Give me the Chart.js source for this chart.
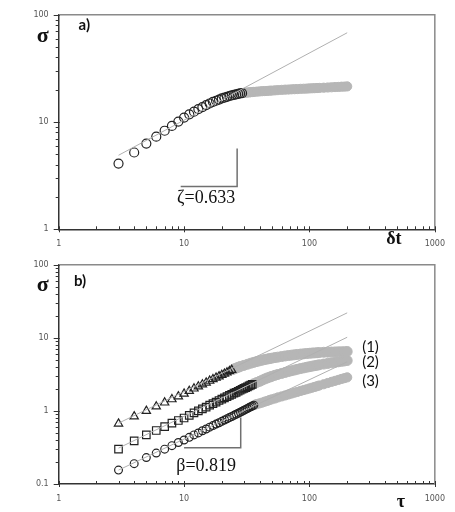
<!DOCTYPE html>
<html lang="en">
<head>
<meta charset="UTF-8" />
<title>sigma scaling</title>
<script src="https://cdn.jsdelivr.net/npm/chart.js@4.4.1/dist/chart.umd.min.js"></script>
<style>
  body { margin: 0; background: #fff; }
  canvas { display: block; }
</style>
</head>
<body>
<canvas id="chartA" width="455" height="250"></canvas>
<canvas id="chartB" width="455" height="262"></canvas>
<script>
// ---- panel a) sigma vs delta t ----
const aBlackX = [3,4,5,6,7,8,9,10,11,12,13,14,15,16,17,18,19,20,21,22,23,24,25,26,27,28,29];
const aBlackY = [4.1,5.2,6.3,7.3,8.3,9.2,10.1,11.0,11.8,12.5,13.2,13.8,14.4,14.9,15.4,15.8,16.2,16.6,16.9,17.2,17.5,17.7,17.9,18.1,18.3,18.5,18.6];
const aGreyX = [30,31,32,33,34,35,36,38,40,42,44,46,48,50,53,56,60,64,68,72,76,80,85,90,95,100,105,110,115,120,130,140,150,160,170,180,190,200];
const aGreyY = [18.7,18.8,18.85,18.9,19.0,19.05,19.1,19.2,19.3,19.4,19.45,19.5,19.6,19.65,19.75,19.85,19.95,20.05,20.1,20.2,20.25,20.3,20.4,20.45,20.5,20.6,20.65,20.7,20.75,20.8,20.9,21.0,21.1,21.2,21.25,21.35,21.4,21.5];
const aFitX = [3, 200];
const aFitY = [4.9, 68];
const aSlopeX = [26.5, 26.5, 9.4];
const aSlopeY = [5.66, 2.5, 2.5];

// ---- panel b) sigma vs tau, three curves ----
const b1BlackX = [3,4,5,6,7,8,9,10,11,12,13,14,15,16,17,18,19,20,21,22,23,24];
const b1BlackY = [0.67,0.84,1.0,1.15,1.3,1.44,1.58,1.72,1.87,2.02,2.16,2.3,2.44,2.58,2.71,2.84,2.97,3.1,3.23,3.36,3.5,3.63];
const b1GreyX = [25,26,27,28,30,32,34,36,38,40,42,44,46,48,50,53,56,60,64,68,72,76,80,85,90,95,100,105,110,115,120,130,140,150,160,170,180,190,200];
const b1GreyY = [3.75,3.85,3.95,4.05,4.2,4.35,4.5,4.62,4.74,4.85,4.95,5.05,5.12,5.2,5.27,5.37,5.45,5.55,5.65,5.73,5.8,5.87,5.93,6.0,6.05,6.1,6.15,6.2,6.23,6.26,6.3,6.35,6.38,6.4,6.42,6.44,6.45,6.47,6.5];

const b2BlackX = [3,4,5,6,7,8,9,10,11,12,13,14,15,16,17,18,19,20,21,22,23,24,25,26,27,28,29,30,31,32,33,34,35];
const b2BlackY = [0.30,0.39,0.47,0.54,0.61,0.68,0.74,0.8,0.87,0.94,1.0,1.07,1.13,1.2,1.26,1.32,1.39,1.45,1.51,1.57,1.63,1.69,1.75,1.8,1.86,1.92,1.98,2.03,2.09,2.14,2.2,2.25,2.31];
const b2GreyX = [36,38,40,42,44,46,48,50,53,56,60,64,68,72,76,80,85,90,95,100,105,110,115,120,130,140,150,160,170,180,190,200];
const b2GreyY = [2.36,2.45,2.54,2.64,2.74,2.82,2.9,2.97,3.07,3.16,3.26,3.36,3.46,3.55,3.63,3.71,3.8,3.88,3.96,4.03,4.1,4.16,4.22,4.28,4.38,4.47,4.56,4.63,4.7,4.77,4.83,4.9];

const b3BlackX = [3,4,5,6,7,8,9,10,11,12,13,14,15,16,17,18,19,20,21,22,23,24,25,26,27,28,29,30,31,32,33,34,35,36];
const b3BlackY = [0.155,0.19,0.23,0.265,0.3,0.335,0.37,0.4,0.435,0.47,0.5,0.535,0.565,0.6,0.63,0.66,0.69,0.72,0.75,0.78,0.81,0.84,0.87,0.9,0.93,0.96,0.99,1.02,1.05,1.08,1.11,1.14,1.17,1.2];
const b3GreyX = [37,38,40,42,44,46,48,50,53,56,60,64,68,72,76,80,85,90,95,100,105,110,115,120,130,140,150,160,170,180,190,200];
const b3GreyY = [1.22,1.24,1.27,1.3,1.34,1.37,1.41,1.44,1.48,1.53,1.58,1.63,1.68,1.73,1.78,1.82,1.88,1.93,1.98,2.03,2.08,2.13,2.18,2.23,2.32,2.41,2.5,2.58,2.66,2.74,2.81,2.88];

const bFitX = [3, 200];
const b1FitY = [0.68, 22];
const b2FitY = [0.31, 10.2];
const b3FitY = [0.155, 4.7];
const bSlopeX = [28.3, 28.3, 10.0];
const bSlopeY = [0.81, 0.313, 0.313];

// ---- axis ticks ----
const xTicks = [1,2,3,4,5,6,7,8,9,10,20,30,40,50,60,70,80,90,100,200,300,400,500,600,700,800,900,1000];
const yTicksA = [1,2,3,4,5,6,7,8,9,10,20,30,40,50,60,70,80,90,100];
const yTicksB = [0.1,0.2,0.3,0.4,0.5,0.6,0.7,0.8,0.9,1,2,3,4,5,6,7,8,9,10,20,30,40,50,60,70,80,90,100];

const GREY = '#b6b6b6';
const SERIF = '"Liberation Serif", "DejaVu Serif", serif';

function pts(xs, ys) {
  return xs.map((x, i) => ({ x: x, y: ys[i] }));
}
function marks(xs, ys, style, r, grey) {
  return {
    data: pts(xs, ys), showLine: false, pointStyle: style, pointRadius: r,
    pointBorderWidth: grey ? 1 : 1.2,
    pointBorderColor: grey ? GREY : '#222',
    pointBackgroundColor: grey ? GREY : 'rgba(0,0,0,0)'
  };
}
function line(xs, ys, color, w) {
  return { data: pts(xs, ys), showLine: true, borderColor: color, borderWidth: w, pointRadius: 0, fill: false };
}
function isDecade(v) {
  const l = Math.log10(v);
  return Math.abs(l - Math.round(l)) < 1e-9;
}

// frame, tick marks and texts
const extras = {
  id: 'extras',
  afterDraw(chart, args, opts) {
    const ctx = chart.ctx;
    const a = chart.chartArea;
    const sx = chart.scales.x, sy = chart.scales.y;
    ctx.save();
    // grey frame on top and right
    ctx.strokeStyle = '#8a8a8a';
    ctx.lineWidth = 1.5;
    ctx.beginPath();
    ctx.moveTo(a.left, a.top); ctx.lineTo(a.right, a.top); ctx.lineTo(a.right, a.bottom);
    ctx.stroke();
    // tick marks
    ctx.strokeStyle = '#333';
    ctx.lineWidth = 1;
    ctx.beginPath();
    xTicks.forEach(v => {
      const p = Math.round(sx.getPixelForValue(v)) + 0.5;
      const m = isDecade(v);
      ctx.moveTo(p, a.bottom - 3);
      ctx.lineTo(p, a.bottom + (m ? 3 : 0));
    });
    opts.yTicks.forEach(v => {
      const p = Math.round(sy.getPixelForValue(v)) + 0.5;
      const m = isDecade(v);
      ctx.moveTo(a.left - (m ? 5 : 3), p);
      ctx.lineTo(a.left + (m ? 1 : 0), p);
    });
    ctx.stroke();
    // texts
    ctx.textAlign = 'center';
    ctx.textBaseline = 'middle';
    opts.texts.forEach(t => {
      let x, y;
      if (t.data) {
        x = sx.getPixelForValue(t.data[0]);
        y = sy.getPixelForValue(t.data[1]);
      } else {
        x = (t.fromRight ? a.right : a.left) + t.dx;
        y = (t.fromBottom ? a.bottom : a.top) + t.dy;
      }
      ctx.font = t.font;
      ctx.fillStyle = t.color || '#111';
      ctx.fillText(t.text, x, y);
    });
    ctx.restore();
  }
};

function makeChart(id, datasets, yMin, yTicks, pad, xHeight, texts) {
  const tickFont = { family: '"DejaVu Sans", sans-serif', size: 8 };
  return new Chart(document.getElementById(id), {
    type: 'scatter',
    data: { datasets: datasets },
    plugins: [extras],
    options: {
      responsive: false,
      animation: false,
      events: [],
      layout: { padding: { left: 0, top: pad.top, right: pad.right, bottom: 0 } },
      plugins: {
        legend: { display: false },
        tooltip: { enabled: false },
        extras: { yTicks: yTicks, texts: texts }
      },
      scales: {
        x: {
          type: 'logarithmic', min: 1, max: 1000,
          afterBuildTicks: s => { s.ticks = xTicks.map(v => ({ value: v })); },
          afterFit: s => { s.height = xHeight; },
          grid: { display: false, drawTicks: false },
          border: { display: true, color: '#333', width: 1.5 },
          ticks: {
            autoSkip: false, maxRotation: 0, padding: 10, color: '#555', font: tickFont,
            callback: v => isDecade(v) ? String(v) : ''
          }
        },
        y: {
          type: 'logarithmic', min: yMin, max: 100,
          afterBuildTicks: s => { s.ticks = yTicks.map(v => ({ value: v })); },
          afterFit: s => { s.width = 58.7; },
          grid: { display: false, drawTicks: false },
          border: { display: true, color: '#333', width: 1.5 },
          ticks: {
            autoSkip: false, padding: 10, color: '#555', font: tickFont,
            callback: v => isDecade(v) ? String(v) : ''
          }
        }
      }
    }
  });
}

makeChart('chartA', [
  line(aFitX, aFitY, '#b0b0b0', 1),
  marks(aBlackX, aBlackY, 'circle', 4.5, false),
  marks(aGreyX, aGreyY, 'circle', 4.6, true),
  line(aSlopeX, aSlopeY, '#707070', 1.5)
], 1, yTicksA, { top: 6.7, right: 18.3 }, 20.7, [
  { text: 'a)', font: 'bold 15px Lato, sans-serif', data: [1.6, 80] },
  { text: '\u03c3', font: 'bold 22px ' + SERIF, dx: -16, dy: 22 },
  { text: '\u03b4t', font: 'bold 18px ' + SERIF, fromRight: true, fromBottom: true, dx: -41, dy: 10 },
  { text: '\u03b6=0.633', font: '18px ' + SERIF, data: [15, 1.95] }
]);

makeChart('chartB', [
  line(bFitX, b1FitY, '#b0b0b0', 1),
  line(bFitX, b2FitY, '#b0b0b0', 1),
  line(bFitX, b3FitY, '#b0b0b0', 1),
  marks(b1BlackX, b1BlackY, 'triangle', 4.8, false),
  marks(b1GreyX, b1GreyY, 'circle', 5, true),
  marks(b2BlackX, b2BlackY, 'rect', 5.3, false),
  marks(b2GreyX, b2GreyY, 'circle', 5, true),
  marks(b3BlackX, b3BlackY, 'circle', 3.9, false),
  marks(b3GreyX, b3GreyY, 'circle', 4.6, true),
  line(bSlopeX, bSlopeY, '#707070', 1.5)
], 0.1, yTicksB, { top: 11, right: 18 }, 28, [
  { text: 'b)', font: 'bold 15px Lato, sans-serif', data: [1.48, 60] },
  { text: '\u03c3', font: 'bold 22px ' + SERIF, dx: -16, dy: 21 },
  { text: '\u03c4', font: 'bold 18px ' + SERIF, fromRight: true, fromBottom: true, dx: -34, dy: 18 },
  { text: '\u03b2=0.819', font: '18px ' + SERIF, data: [15, 0.175] },
  { text: '(1)', font: '15px Lato, sans-serif', data: [307, 7.4] },
  { text: '(2)', font: '15px Lato, sans-serif', data: [307, 4.66] },
  { text: '(3)', font: '15px Lato, sans-serif', data: [307, 2.58] }
]);
</script>
</body>
</html>
